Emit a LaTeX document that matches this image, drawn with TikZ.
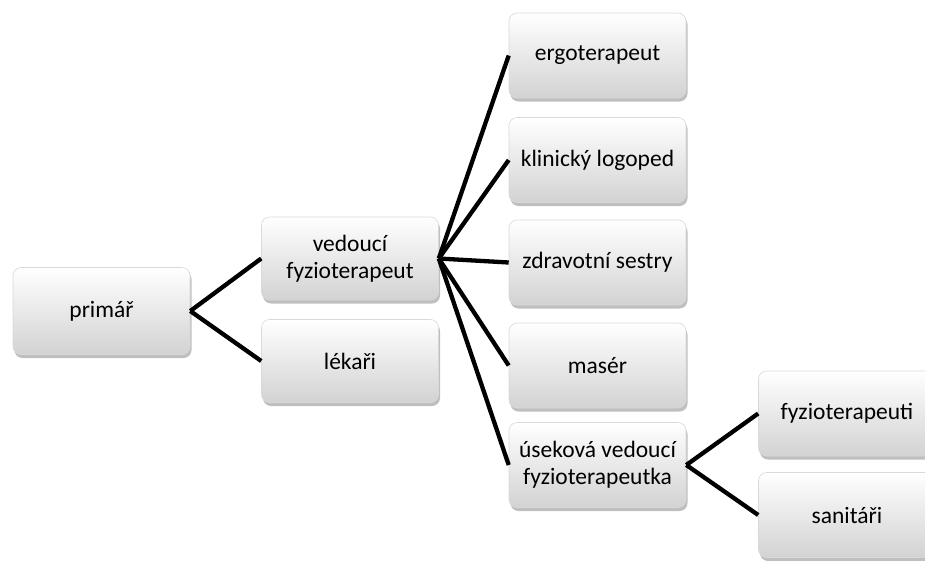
\documentclass[tikz,border=0pt]{standalone}
\usepackage{fontspec}
\setmainfont{Carlito}
\usetikzlibrary{shadows}
\begin{document}
\begin{tikzpicture}[x=1pt,y=-1pt,
  orgbox/.style={rectangle, rounded corners=8pt, minimum width=177pt, minimum height=85pt,
    top color=white, bottom color=gray!35, draw=gray!30, line width=0.6pt,
    align=center, text=black, font=\fontsize{23.5}{27}\selectfont,
    drop shadow={shadow xshift=1.5pt, shadow yshift=-3.5pt, opacity=0.5, fill=gray}},
  link/.style={line width=4.3pt, black}]
\useasboundingbox (0,0) rectangle (925,560);
\clip (0,0) rectangle (925,560);
\node[orgbox, minimum height=87pt] (prim) at (101.5,311) {primář};
\node[orgbox, minimum height=83pt] (ved) at (350,258.5) {vedoucí\\fyzioterapeut};
\node[orgbox, minimum height=83pt] (lek) at (350,361) {lékaři};
\node[orgbox] (ergo) at (597.5,55.5) {ergoterapeut};
\node[orgbox] (logo) at (597.5,160) {klinický logoped};
\node[orgbox] (sest) at (597.5,262.5) {zdravotní sestry};
\node[orgbox] (mas) at (597.5,365.5) {masér};
\node[orgbox] (usek) at (597.5,465) {úseková vedoucí\\fyzioterapeutka};
\node[orgbox] (fyz) at (847,413.5) {fyzioterapeuti};
\node[orgbox] (san) at (847,515) {sanitáři};
\draw[link] (prim.east) -- (ved.west);
\draw[link] (prim.east) -- (lek.west);
\foreach \t in {ergo,logo,sest,mas,usek}
  \draw[link] (ved.east) -- (\t.west);
\draw[link] (usek.east) -- (fyz.west);
\draw[link] (usek.east) -- (san.west);
\end{tikzpicture}
\end{document}
